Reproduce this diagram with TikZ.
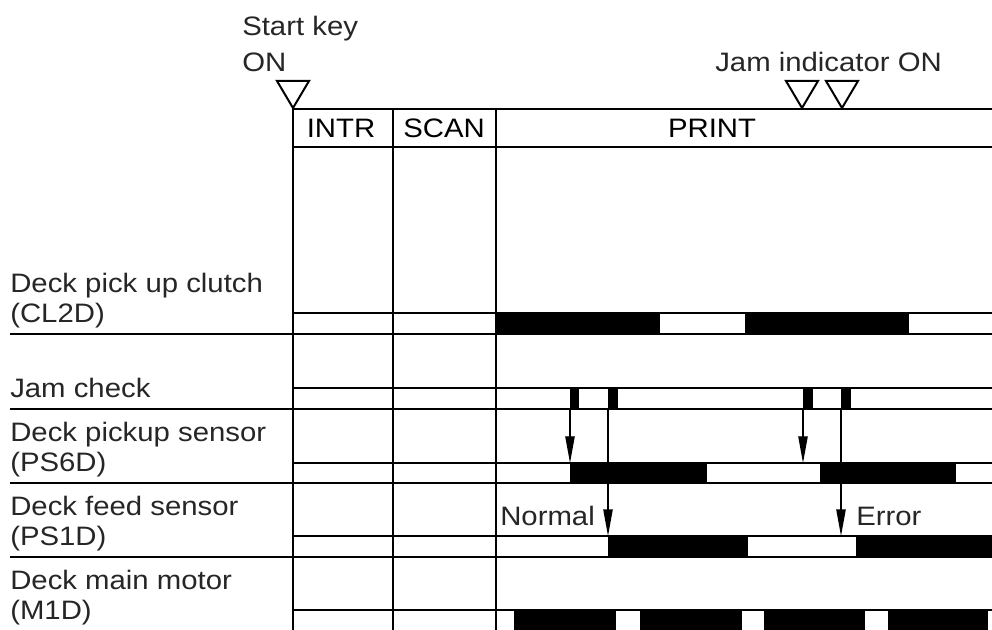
\documentclass[tikz,border=0pt]{standalone}
\usepackage{fontspec}
\setmainfont{Liberation Sans}[FakeStretch=1.1]
\usetikzlibrary{arrows.meta}

\begin{document}
\begin{tikzpicture}[
  x=0.75pt, y=-0.75pt,
  font=\fontsize{20}{22.5}\selectfont,
  lbl/.style={anchor=base west, align=left, inner sep=0pt, text=black!85},
  hdr/.style={anchor=base, inner sep=0pt},
  grid/.style={line width=1.1pt},
  sep/.style={line width=1.6pt},
  hi/.style={fill=black},
  trig/.style={line width=1.5pt, line join=miter},
  jamarr/.style={line width=1pt, -{Triangle[length=20pt, width=7pt]}}]

\useasboundingbox (0,0) rectangle (992,630);

% trigger labels and markers
\node[lbl, font=\fontsize{20}{27.5}\selectfont] (start) at (242,72) {Start key\\ON};
\node[lbl] (jamon) at (715,72) {Jam indicator ON};
\foreach \x in {293,802,842}
  \draw[trig] (\x,108) -- ++(-16,-27) -- ++(32,0) -- cycle;

% header
\draw[grid] (293,630) -- (293,109) -- (992,109);
\draw[grid] (293,147) -- (992,147);
\draw[grid] (393,109) -- (393,630);
\draw[grid] (496,109) -- (496,630);
\node[hdr] (intr) at (341,138) {INTR};
\node[hdr] (scan) at (444,138) {SCAN};
\node[hdr] (print) at (712,138) {PRINT};

% signal rows (base = last line)
\node[lbl] (cl2d) at (10,323) {Deck pick up clutch\\(CL2D)};
\node[lbl] (jam) at (10,398) {Jam check};
\node[lbl] (ps6d) at (10,472) {Deck pickup sensor\\(PS6D)};
\node[lbl] (ps1d) at (10,545) {Deck feed sensor\\(PS1D)};
\node[lbl] (m1d) at (10,619) {Deck main motor\\(M1D)};

\foreach \t in {313,388,463,536,610}
  \draw[grid] (293,\t) -- (992,\t);
\foreach \t in {334,409,483,557}
  \draw[sep] (10,\t) -- (992,\t);

% ON periods
\foreach \a/\b in {496/660, 745/909}
  \fill[hi] (\a,313) rectangle (\b,334);
\foreach \a/\b in {570/579, 608/618, 803/813, 841/851}
  \fill[hi] (\a,388) rectangle (\b,409);
\foreach \a/\b in {570/707, 820/956}
  \fill[hi] (\a,463) rectangle (\b,483);
\foreach \a/\b in {608/748, 856/992}
  \fill[hi] (\a,536) rectangle (\b,557);
\foreach \a/\b in {514/616, 640/742, 764/865, 888/988}
  \fill[hi] (\a,610) rectangle (\b,630);

% jam check arrows
\coordinate (jc1) at (570,409);
\coordinate (jc2) at (608,409);
\coordinate (jc3) at (803,409);
\coordinate (jc4) at (841,409);
\coordinate (pu1) at (570,463);
\coordinate (pu2) at (803,463);
\coordinate (fd1) at (608,536);
\coordinate (fd2) at (841,536);
\draw[jamarr] (jc1) -- (pu1);
\draw[jamarr] (jc2) -- (fd1);
\draw[jamarr] (jc3) -- (pu2);
\draw[jamarr] (jc4) -- (fd2);
\node[lbl] (normal) at (500,525) {Normal};
\node[lbl] (error) at (856,525) {Error};
\end{tikzpicture}
\end{document}
